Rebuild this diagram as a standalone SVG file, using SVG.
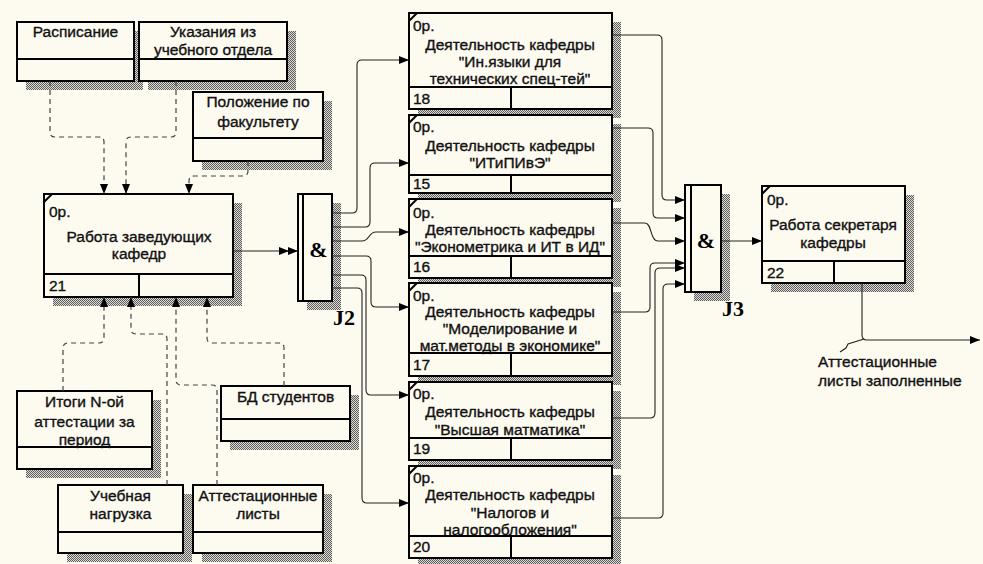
<svg xmlns="http://www.w3.org/2000/svg" width="983" height="564" viewBox="0 0 983 564">
<defs>
<pattern id="hatch" width="2" height="2" patternUnits="userSpaceOnUse"><rect width="2" height="2" fill="#dcdad2"/><rect width="1" height="1" fill="#5e5e5e"/><rect x="1" y="1" width="1" height="1" fill="#5e5e5e"/></pattern>
<marker id="arr" viewBox="0 0 10 8" refX="10" refY="4" markerWidth="10" markerHeight="8" orient="auto" markerUnits="userSpaceOnUse"><path d="M0,0 L10,4 L0,8 z" fill="#000"/></marker>
</defs>
<style>
.bg{fill:#fdfaf0}
.sh{fill:url(#hatch)}
.box{fill:#fdfaf0;stroke:#000;stroke-width:2}
.ln{stroke:#000;stroke-width:2;fill:none}
.t{font-family:"Liberation Sans",Arial,sans-serif;font-size:15.5px;fill:#111;stroke:#111;stroke-width:0.35}
.c{text-anchor:middle}
.dash{fill:none;stroke:#444;stroke-width:1.2;stroke-dasharray:5,4}
.sol{fill:none;stroke:#222;stroke-width:1.1}
.j{font-family:"Liberation Serif","Times New Roman",serif;font-weight:bold;fill:#000}
</style>
<rect class="bg" x="0" y="0" width="983" height="564"/>

<g id="rasp">
<rect class="sh" x="26" y="31" width="117" height="59"/>
<rect class="box" x="17" y="22" width="117" height="59"/>
<line class="ln" x1="17" y1="59" x2="134" y2="59"/>
<text class="t c" x="75.5" y="37">Расписание</text>
</g>
<g id="ukaz">
<rect class="sh" x="148" y="31" width="148" height="59"/>
<rect class="box" x="139" y="22" width="148" height="59"/>
<line class="ln" x1="139" y1="59" x2="287" y2="59"/>
<text class="t c" x="213" y="37">Указания из</text>
<text class="t c" x="213" y="55">учебного отдела</text>
</g>
<g id="polozh">
<rect class="sh" x="202" y="101" width="130" height="69"/>
<rect class="box" x="193" y="92" width="130" height="69"/>
<line class="ln" x1="193" y1="138" x2="323" y2="138"/>
<text class="t c" x="258" y="107">Положение по</text>
<text class="t c" x="258" y="127">факультету</text>
</g>
<g id="itogi">
<rect class="sh" x="26" y="400" width="135" height="78"/>
<rect class="box" x="17" y="391" width="135" height="78"/>
<line class="ln" x1="17" y1="447" x2="152" y2="447"/>
<text class="t c" x="84.5" y="407">Итоги N-ой</text>
<text class="t c" x="84.5" y="427">аттестации за</text>
<text class="t c" x="84.5" y="445">период</text>
</g>
<g id="bd">
<rect class="sh" x="230" y="395" width="129" height="55"/>
<rect class="box" x="221" y="386" width="129" height="55"/>
<line class="ln" x1="221" y1="419" x2="350" y2="419"/>
<text class="t c" x="285.5" y="402">БД студентов</text>
</g>
<g id="ucheb">
<rect class="sh" x="67" y="494" width="125" height="68"/>
<rect class="box" x="58" y="485" width="125" height="68"/>
<line class="ln" x1="58" y1="532" x2="183" y2="532"/>
<text class="t c" x="120.5" y="501">Учебная</text>
<text class="t c" x="120.5" y="519">нагрузка</text>
</g>
<g id="attest">
<rect class="sh" x="202" y="494" width="130" height="68"/>
<rect class="box" x="193" y="485" width="130" height="68"/>
<line class="ln" x1="193" y1="532" x2="323" y2="532"/>
<text class="t c" x="258" y="501">Аттестационные</text>
<text class="t c" x="258" y="519">листы</text>
</g>

<g id="a21">
<rect class="sh" x="53" y="203" width="189" height="103"/>
<rect class="box" x="44" y="194" width="189" height="103"/>
<line class="ln" x1="44" y1="274" x2="233" y2="274"/>
<line class="ln" x1="139" y1="274" x2="139" y2="297"/>
<line class="ln" x1="44" y1="202" x2="52" y2="194"/>
<text class="t" x="49" y="217">0р.</text>
<text class="t c" x="139" y="242">Работа заведующих</text>
<text class="t c" x="139" y="259">кафедр</text>
<text class="t" x="49" y="291">21</text>
</g>

<g id="b18">
<rect class="sh" x="418" y="22" width="203" height="96"/>
<rect class="box" x="409" y="13" width="203" height="96"/>
<line class="ln" x1="409" y1="87" x2="612" y2="87"/>
<line class="ln" x1="511" y1="87" x2="511" y2="109"/>
<line class="ln" x1="409" y1="21" x2="417" y2="13"/>
<text class="t" x="413" y="31">0р.</text>
<text class="t c" x="510" y="50">Деятельность кафедры</text>
<text class="t c" x="510" y="67">"Ин.языки для</text>
<text class="t c" x="510" y="84">технических спец-тей"</text>
<text class="t" x="413" y="104">18</text>
</g>
<g id="b15">
<rect class="sh" x="418" y="124" width="203" height="78"/>
<rect class="box" x="409" y="115" width="203" height="78"/>
<line class="ln" x1="409" y1="175" x2="612" y2="175"/>
<line class="ln" x1="511" y1="175" x2="511" y2="193"/>
<line class="ln" x1="409" y1="123" x2="417" y2="115"/>
<text class="t" x="413" y="132">0р.</text>
<text class="t c" x="510" y="151">Деятельность кафедры</text>
<text class="t c" x="510" y="168">"ИТиПИвЭ"</text>
<text class="t" x="413" y="189">15</text>
</g>
<g id="b16">
<rect class="sh" x="418" y="208" width="203" height="79"/>
<rect class="box" x="409" y="199" width="203" height="79"/>
<line class="ln" x1="409" y1="256" x2="612" y2="256"/>
<line class="ln" x1="511" y1="256" x2="511" y2="278"/>
<line class="ln" x1="409" y1="207" x2="417" y2="199"/>
<text class="t" x="413" y="218">0р.</text>
<text class="t c" x="510" y="235">Деятельность кафедры</text>
<text class="t c" x="510" y="252">"Эконометрика и ИТ в ИД"</text>
<text class="t" x="413" y="272">16</text>
</g>
<g id="b17">
<rect class="sh" x="418" y="292" width="203" height="93"/>
<rect class="box" x="409" y="283" width="203" height="93"/>
<line class="ln" x1="409" y1="353" x2="612" y2="353"/>
<line class="ln" x1="511" y1="353" x2="511" y2="376"/>
<line class="ln" x1="409" y1="291" x2="417" y2="283"/>
<text class="t" x="413" y="301">0р.</text>
<text class="t c" x="510" y="317">Деятельность кафедры</text>
<text class="t c" x="510" y="334">"Моделирование и</text>
<text class="t c" x="510" y="351">мат.методы в экономике"</text>
<text class="t" x="413" y="370">17</text>
</g>
<g id="b19">
<rect class="sh" x="418" y="391" width="203" height="78"/>
<rect class="box" x="409" y="382" width="203" height="78"/>
<line class="ln" x1="409" y1="438" x2="612" y2="438"/>
<line class="ln" x1="511" y1="438" x2="511" y2="460"/>
<line class="ln" x1="409" y1="390" x2="417" y2="382"/>
<text class="t" x="413" y="399">0р.</text>
<text class="t c" x="510" y="417">Деятельность кафедры</text>
<text class="t c" x="510" y="435">"Высшая матматика"</text>
<text class="t" x="413" y="454">19</text>
</g>
<g id="b20">
<rect class="sh" x="418" y="475" width="203" height="92"/>
<rect class="box" x="409" y="466" width="203" height="92"/>
<line class="ln" x1="409" y1="536" x2="612" y2="536"/>
<line class="ln" x1="511" y1="536" x2="511" y2="558"/>
<line class="ln" x1="409" y1="474" x2="417" y2="466"/>
<text class="t" x="413" y="483">0р.</text>
<text class="t c" x="510" y="500">Деятельность кафедры</text>
<text class="t c" x="510" y="518">"Налогов и</text>
<text class="t c" x="510" y="535">налогообложения"</text>
<text class="t" x="413" y="552">20</text>
</g>
<g id="b22">
<rect class="sh" x="771" y="195" width="143" height="97"/>
<rect class="box" x="762" y="186" width="143" height="97"/>
<line class="ln" x1="762" y1="261" x2="905" y2="261"/>
<line class="ln" x1="834" y1="261" x2="834" y2="283"/>
<line class="ln" x1="762" y1="194" x2="770" y2="186"/>
<text class="t" x="767" y="205">0р.</text>
<text class="t c" x="833" y="230">Работа секретаря</text>
<text class="t c" x="833" y="248">кафедры</text>
<text class="t" x="767" y="278">22</text>
</g>

<g id="j2">
<rect class="sh" x="307" y="203" width="34" height="107"/>
<rect class="box" x="298" y="194" width="34" height="107"/>
<line class="ln" x1="303" y1="194" x2="303" y2="301"/>
<text class="j" x="318.5" y="257" font-size="22" text-anchor="middle">&amp;</text>
<text class="j" x="333" y="325" font-size="22">J2</text>
</g>
<g id="j3">
<rect class="sh" x="694" y="194" width="36" height="107"/>
<rect class="box" x="685" y="185" width="36" height="107"/>
<line class="ln" x1="691" y1="185" x2="691" y2="292"/>
<text class="j" x="706" y="248" font-size="22" text-anchor="middle">&amp;</text>
<text class="j" x="722" y="316" font-size="22">J3</text>
</g>

<g id="connectors">
<path class="dash" marker-end="url(#arr)" d="M50,81 V132 Q50,137 55,137 H99 Q104,137 104,142 V194"/>
<path class="dash" marker-end="url(#arr)" d="M176,81 V132 Q176,137 171,137 H131 Q126,137 126,142 V194"/>
<path class="dash" marker-end="url(#arr)" d="M248,161 V171 Q248,176 243,176 H194 Q189,176 189,181 V194"/>
<path class="dash" marker-end="url(#arr)" d="M63,391 V348 Q63,343 68,343 H99 Q104,343 104,338 V297"/>
<path class="dash" marker-end="url(#arr)" d="M167,485 V339 Q167,334 162,334 H136 Q131,334 131,329 V297"/>
<path class="dash" marker-end="url(#arr)" d="M217,485 V390 Q217,385 212,385 H181 Q176,385 176,380 V297"/>
<path class="dash" marker-end="url(#arr)" d="M284,386 V348 Q284,343 279,343 H212 Q207,343 207,338 V297"/>

<path class="sol" marker-mid="url(#arr)" marker-end="url(#arr)" d="M233,251 H289 H298"/>

<path class="sol" marker-end="url(#arr)" d="M332,213 H352 Q357,213 357,208 V65 Q357,60 362,60 H409"/>
<path class="sol" marker-end="url(#arr)" d="M332,227 H365 Q370,227 370,222 V168 Q370,163 375,163 H409"/>
<path class="sol" marker-end="url(#arr)" d="M332,241 H362 C370,241 368,232 376,232 H409"/>
<path class="sol" marker-end="url(#arr)" d="M332,256 H366 Q371,256 371,261 V302 Q371,307 376,307 H409"/>
<path class="sol" marker-end="url(#arr)" d="M332,275 H361 Q366,275 366,280 V390 Q366,395 371,395 H409"/>
<path class="sol" marker-end="url(#arr)" d="M332,288 H357 Q362,288 362,293 V498 Q362,503 367,503 H409"/>

<path class="sol" marker-end="url(#arr)" d="M612,35 H657 Q662,35 662,40 V195 Q662,200 667,200 H685"/>
<path class="sol" marker-end="url(#arr)" d="M612,128 H648 Q653,128 653,133 V213 Q653,218 658,218 H685"/>
<path class="sol" marker-end="url(#arr)" d="M612,223 H645 C652,223 650,241 658,241 H685"/>
<path class="sol" marker-end="url(#arr)" d="M612,312 H645 Q650,312 650,307 V268 Q650,263 655,263 H685"/>
<path class="sol" marker-end="url(#arr)" d="M612,418 H650 Q655,418 655,413 V273 Q655,268 660,268 H685"/>
<path class="sol" marker-end="url(#arr)" d="M612,518 H658 Q663,518 663,513 V289 Q663,284 668,284 H685"/>

<path class="sol" marker-end="url(#arr)" d="M721,241 H762"/>
<path class="sol" marker-end="url(#arr)" d="M862,283 V335 Q862,340 867,340 H980"/>
<polyline class="sol" points="864,339 848,344 846,348 840,352"/>
<text class="t" x="818" y="367">Аттестационные</text>
<text class="t" x="818" y="386">листы заполненные</text>
</g>
</svg>
